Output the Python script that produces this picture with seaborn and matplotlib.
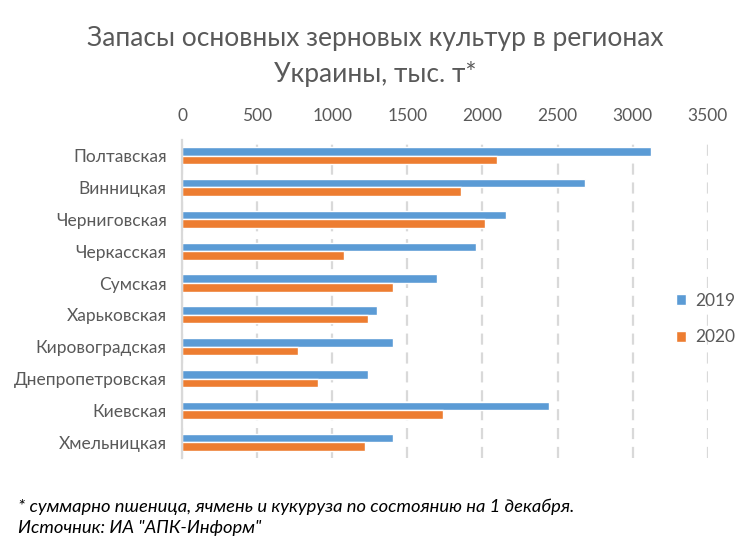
import seaborn as sns
import matplotlib.pyplot as plt
import pandas as pd

regions = [
    "Полтавская", "Винницкая", "Черниговская", "Черкасская", "Сумская",
    "Харьковская", "Кировоградская", "Днепропетровская", "Киевская", "Хмельницкая",
]
stocks_2019 = [3125, 2680, 2155, 1960, 1700, 1295, 1405, 1235, 2440, 1405]
stocks_2020 = [2100, 1855, 2015, 1080, 1405, 1240, 770, 905, 1740, 1215]
years = ["2019", "2020"]
x_ticks = [0, 500, 1000, 1500, 2000, 2500, 3000, 3500]

title = "Запасы основных зерновых культур в регионах\nУкраины, тыс. т*"
note = "* суммарно пшеница, ячмень и кукуруза по состоянию на 1 декабря.\nИсточник: ИА \"АПК-Информ\""

sns.set_style("white")
plt.rcParams["font.family"] = ["Lato", "Open Sans", "DejaVu Sans"]

df = pd.DataFrame({
    "Регион": regions * 2,
    "Год": [years[0]] * len(regions) + [years[1]] * len(regions),
    "Запасы": stocks_2019 + stocks_2020,
})

grey = "#595959"
fig = plt.figure(figsize=(7.5, 5.48), dpi=100)
ax = fig.add_axes([0.2427, 0.164, 0.701, 0.581])

sns.barplot(data=df, x="Запасы", y="Регион", hue="Год", hue_order=years,
            palette=["#5B9BD5", "#ED7D31"], width=0.54, orient="h",
            saturation=1, ax=ax, zorder=3)

ax.set_xlim(0, 3500)
ax.set_xticks(x_ticks)
ax.xaxis.tick_top()
ax.tick_params(axis="both", length=0, colors=grey, labelsize=12.5)
ax.tick_params(axis="x", pad=11)
ax.tick_params(axis="y", pad=11)
ax.set_xlabel("")
ax.set_ylabel("")
ax.xaxis.grid(True, linestyle=(0, (5, 3.5)), color="#d9d9d9", linewidth=1.6, zorder=0)
ax.set_axisbelow(True)
for s in ["top", "right", "bottom"]:
    ax.spines[s].set_visible(False)
ax.spines["left"].set_color("#d9d9d9")
ax.spines["left"].set_linewidth(1.6)
ax.spines["left"].set_zorder(4)

ax.legend(loc="center left", bbox_to_anchor=(0.88, 0.418), bbox_transform=fig.transFigure,
          frameon=False, fontsize=12.5, labelcolor=grey, handlelength=0.6,
          handleheight=0.6, handletextpad=0.5, labelspacing=1.2)

fig.text(0.5, 0.8968, title, ha="center", va="center", fontsize=19, color=grey,
         linespacing=1.44)
fig.text(0.024, 0.0557, note, ha="left", va="center", fontsize=13.2,
         style="italic", color="black", linespacing=1.4)

fig.savefig("out.png", dpi=100)
